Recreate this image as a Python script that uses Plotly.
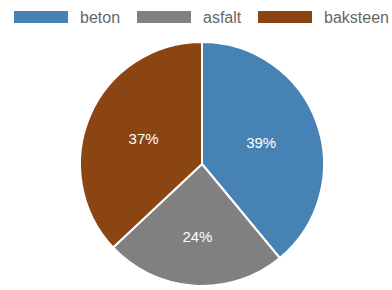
import plotly.graph_objects as go

labels = ["beton", "asfalt", "baksteen"]
values = [39, 24, 37]
colors = ["#4682B4", "#808080", "#8B4513"]

W, H = 392, 290
cx, cy, r = 202, 164, 122

fig = go.Figure(go.Pie(
    labels=labels, values=values, sort=False, direction="clockwise", rotation=0,
    marker=dict(colors=colors, line=dict(color="white", width=2)),
    textinfo="percent", texttemplate="%{percent:.0%}", textposition="inside",
    insidetextorientation="horizontal",
    textfont=dict(color="white", size=15, family="Liberation Sans"),
    showlegend=False, hoverinfo="label+value",
    domain=dict(x=[(cx - r) / W, (cx + r) / W], y=[1 - (cy + r) / H, 1 - (cy - r) / H]),
))

# manual legend (Chart.js style wide boxes)
box_w, box_h, box_y = 54, 12, 17
starts = [14, 137, 258]
shapes, annos = [], []
for lab, col, x0 in zip(labels, colors, starts):
    shapes.append(dict(type="rect", xref="paper", yref="paper",
                       x0=x0 / W, x1=(x0 + box_w) / W,
                       y0=1 - (box_y + box_h / 2) / H, y1=1 - (box_y - box_h / 2) / H,
                       fillcolor=col, line=dict(width=0)))
    annos.append(dict(xref="paper", yref="paper", x=(x0 + box_w + 10) / W, y=1 - box_y / H,
                      xanchor="left", yanchor="middle", text=lab, showarrow=False,
                      font=dict(size=16, color="#666666", family="Liberation Sans")))

fig.update_layout(width=W, height=H, margin=dict(l=0, r=0, t=0, b=0),
                  paper_bgcolor="white", plot_bgcolor="white",
                  shapes=shapes, annotations=annos)
fig.write_html("out.html", config={"displayModeBar": False},
               post_script="document.body.style.margin='0';document.body.style.overflow='hidden';")
